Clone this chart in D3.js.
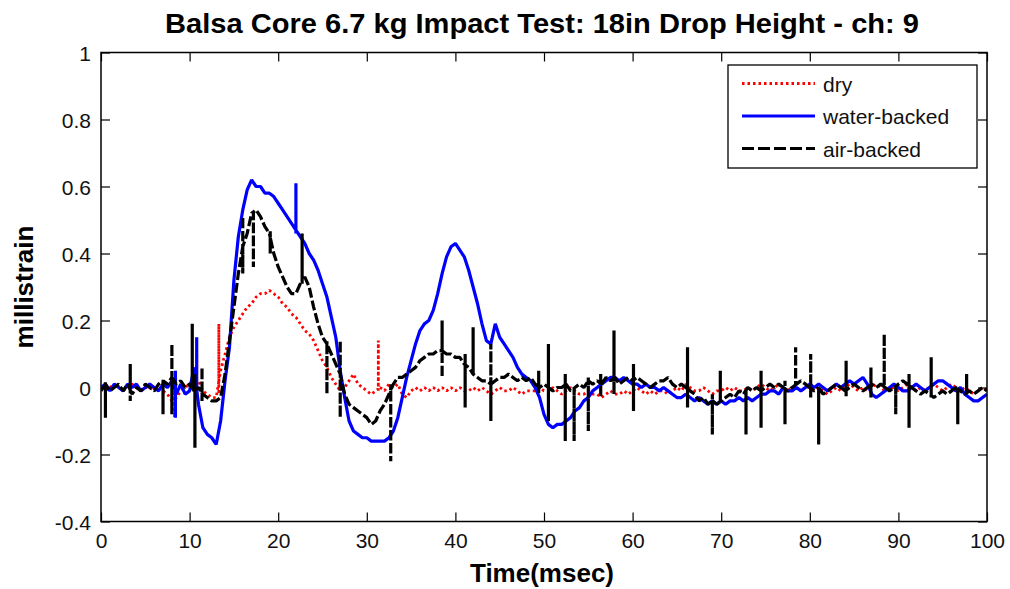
<!DOCTYPE html>
<html lang="en">
<head>
  <meta charset="UTF-8">
  <title>Balsa Core Impact Test</title>
  <script src="https://d3js.org/d3.v7.min.js"></script>
  <style>
    body { margin: 0; background: #fff; font-family: "Liberation Sans", Arial, sans-serif; }
    svg { display: block; }
    .tick text { font-size: 21px; fill: #111; font-family: "Liberation Sans", Arial, sans-serif; }
    .tick line { stroke: #000; stroke-width: 1.2; }
  </style>
</head>
<body>
  <svg width="1010" height="589"></svg>

  <script>
    // sample spacing of the strain records (msec)
    const timeStep = 0.5;

    // dry (red dotted), one value per 0.5 msec from 0 to 100
    const dryValues = [
      0.00, -0.01, 0.00, 0.01, 0.00, -0.01, 0.00, 0.01, 0.00, -0.01, 0.00, 0.00, -0.01, 0.00, -0.01, -0.02, -0.04, -0.03, -0.01, 0.00,
      0.01, 0.03, 0.02, -0.01, -0.02, -0.03, -0.03, 0.05, 0.10, 0.15, 0.18, 0.20, 0.22, 0.24, 0.25, 0.27, 0.28, 0.28, 0.29, 0.28,
      0.27, 0.25, 0.24, 0.22, 0.21, 0.19, 0.17, 0.16, 0.14, 0.11, 0.08, 0.06, 0.03, 0.01, -0.01, 0.00, 0.02, 0.04, 0.01, 0.00,
      -0.01, -0.02, -0.01, 0.00, -0.01, 0.01, 0.00, 0.01, -0.02, -0.03, -0.01, 0.00, -0.01, 0.00, -0.01, 0.00, -0.01, 0.00, -0.01, 0.00,
      -0.01, 0.00, -0.01, -0.01, 0.00, -0.01, 0.00, -0.01, -0.02, -0.01, 0.00, -0.01, -0.01, 0.00, -0.01, -0.02, -0.01, -0.01, -0.01, 0.00,
      -0.01, -0.01, 0.00, -0.01, -0.02, -0.01, 0.00, -0.01, -0.02, -0.02, -0.01, -0.02, -0.02, -0.03, -0.02, -0.01, -0.02, -0.02, -0.01, -0.02,
      -0.01, 0.00, -0.01, -0.02, -0.01, -0.02, -0.01, -0.01, -0.02, -0.01, 0.00, -0.01, 0.01, 0.00, -0.01, -0.01, 0.00, -0.01, -0.02, -0.01,
      -0.01, 0.00, -0.01, 0.00, -0.01, -0.01, 0.00, -0.01, 0.00, 0.01, 0.00, -0.01, 0.00, 0.01, 0.00, -0.01, 0.00, 0.00, -0.01, 0.00,
      0.00, -0.01, 0.00, -0.01, -0.02, -0.01, 0.00, -0.01, 0.00, 0.01, 0.00, -0.01, 0.00, -0.01, 0.00, 0.01, 0.00, -0.01, 0.00, 0.00,
      -0.01, 0.00, 0.01, 0.00, -0.01, 0.00, -0.01, 0.00, 0.01, 0.00, -0.01, 0.00, 0.01, 0.00, -0.01, 0.00, -0.01, -0.02, -0.01, 0.00,
      -0.01
    ];

    // water-backed (blue solid)
    const waterValues = [
      0.00, 0.01, -0.01, 0.01, 0.00, -0.01, 0.01, 0.00, 0.01, -0.01, 0.00, 0.01, 0.00, -0.01, 0.01, 0.00, 0.02, -0.02, 0.01, -0.02,
      -0.01, 0.06, -0.05, -0.12, -0.14, -0.15, -0.17, -0.10, 0.02, 0.12, 0.32, 0.45, 0.53, 0.59, 0.62, 0.60, 0.60, 0.58, 0.58, 0.57,
      0.55, 0.53, 0.51, 0.49, 0.47, 0.45, 0.43, 0.40, 0.38, 0.35, 0.31, 0.27, 0.21, 0.15, 0.05, -0.03, -0.10, -0.13, -0.14, -0.15,
      -0.15, -0.16, -0.16, -0.16, -0.16, -0.15, -0.13, -0.09, -0.03, 0.03, 0.08, 0.13, 0.17, 0.19, 0.20, 0.23, 0.28, 0.34, 0.39, 0.42,
      0.43, 0.41, 0.39, 0.35, 0.30, 0.25, 0.19, 0.14, 0.13, 0.19, 0.15, 0.13, 0.11, 0.09, 0.06, 0.04, 0.03, 0.02, 0.00, -0.03,
      -0.08, -0.11, -0.12, -0.11, -0.11, -0.10, -0.09, -0.07, -0.06, -0.04, -0.03, -0.01, 0.00, 0.01, 0.02, 0.03, 0.03, 0.02, 0.03, 0.02,
      0.01, 0.01, 0.00, 0.01, 0.00, 0.00, -0.01, 0.00, -0.01, -0.02, -0.03, -0.03, -0.02, -0.03, -0.04, -0.03, -0.04, -0.05, -0.04, -0.05,
      -0.04, -0.05, -0.04, -0.04, -0.03, -0.04, -0.03, -0.04, -0.03, -0.02, -0.02, -0.01, -0.01, -0.02, 0.00, -0.01, -0.01, 0.00, -0.01, 0.00,
      0.01, 0.00, 0.01, 0.00, -0.01, 0.00, 0.01, 0.00, 0.01, 0.02, 0.01, 0.02, 0.03, 0.01, -0.02, -0.03, -0.02, -0.01, 0.00, 0.01,
      0.00, -0.01, -0.01, 0.00, 0.01, 0.00, -0.01, 0.00, 0.01, 0.02, 0.02, 0.01, 0.00, -0.01, 0.00, -0.02, -0.03, -0.04, -0.04, -0.03,
      -0.02
    ];

    // air-backed (black dashed)
    const airValues = [
      -0.01, 0.01, -0.01, 0.00, 0.01, -0.01, 0.01, -0.02, 0.00, -0.01, 0.01, 0.00, -0.01, 0.01, 0.02, 0.01, 0.03, 0.01, 0.02, 0.00,
      0.01, -0.01, 0.00, -0.02, -0.03, -0.04, -0.04, -0.03, 0.04, 0.14, 0.24, 0.34, 0.42, 0.46, 0.52, 0.53, 0.51, 0.48, 0.46, 0.40,
      0.36, 0.33, 0.30, 0.28, 0.28, 0.31, 0.33, 0.30, 0.24, 0.19, 0.15, 0.13, 0.10, 0.07, 0.04, -0.02, -0.05, -0.06, -0.07, -0.08,
      -0.09, -0.11, -0.10, -0.07, -0.05, -0.02, 0.01, 0.03, 0.03, 0.04, 0.05, 0.06, 0.08, 0.09, 0.10, 0.10, 0.11, 0.11, 0.10, 0.10,
      0.09, 0.09, 0.07, 0.06, 0.04, 0.03, 0.02, 0.02, 0.01, 0.02, 0.03, 0.03, 0.04, 0.03, 0.02, 0.03, 0.02, 0.03, 0.01, 0.00,
      0.01, 0.00, -0.01, 0.00, 0.00, 0.01, -0.01, 0.00, 0.01, 0.00, 0.02, 0.01, 0.02, 0.01, 0.03, 0.02, 0.03, 0.01, 0.02, 0.03,
      0.02, 0.03, 0.02, 0.01, 0.00, 0.01, 0.02, 0.02, 0.03, 0.01, 0.00, 0.01, 0.00, -0.01, -0.02, -0.04, -0.03, -0.05, -0.04, -0.05,
      -0.04, -0.03, -0.02, -0.03, -0.01, -0.02, 0.00, -0.01, 0.00, -0.01, 0.00, 0.01, 0.00, 0.01, 0.00, -0.01, 0.00, 0.01, 0.02, 0.01,
      0.00, -0.01, 0.00, -0.02, -0.01, 0.00, 0.01, 0.00, -0.01, 0.00, 0.01, 0.00, -0.01, 0.00, 0.01, 0.00, 0.01, 0.00, -0.01, 0.00,
      0.01, 0.02, 0.01, 0.00, -0.01, -0.02, -0.01, -0.02, -0.03, -0.02, -0.01, -0.02, -0.01, 0.00, -0.01, -0.02, -0.01, -0.02, -0.01, 0.00,
      -0.01
    ];

    // short spikes in the records: time, top, bottom
    const drySpikeTime = [8.3, 10.8, 13.3, 31.3];
    const drySpikeHigh = [0.00, 0.11, 0.19, 0.14];
    const drySpikeLow  = [-0.09, 0.00, -0.02, -0.01];

    const waterSpikeTime = [8.4, 10.8, 22.0];
    const waterSpikeHigh = [0.05, 0.15, 0.61];
    const waterSpikeLow  = [-0.09, -0.02, 0.46];

    const airSpikeTime = [0.5, 3.3, 7.0, 8.0, 10.3, 10.6, 11.4, 16.0, 17.2, 19.1, 22.7, 25.5, 27.0, 32.7, 38.5, 41.1, 42.0, 44.0,
      49.4, 50.5, 52.4, 53.4, 55.0, 56.4, 57.9, 60.1, 66.2, 69.0, 69.9, 72.8, 74.5, 77.2, 78.4, 80.1, 81.0, 84.1, 86.9, 88.4,
      89.7, 91.2, 93.7, 96.7, 97.7];
    const airSpikeHigh = [0.02, 0.07, 0.00, 0.13, 0.19, 0.04, 0.06, 0.51, 0.50, 0.47, 0.46, 0.14, 0.14, 0.01, 0.20, 0.10, 0.18, 0.13,
      0.05, 0.13, 0.04, 0.00, 0.03, 0.04, 0.17, 0.07, 0.12, -0.02, 0.05, -0.01, 0.05, 0.02, 0.12, 0.10, -0.03, 0.08, 0.06, 0.16,
      0.00, 0.04, 0.09, -0.02, 0.04];
    const airSpikeLow = [-0.09, -0.04, -0.08, -0.08, 0.04, -0.18, -0.04, 0.34, 0.36, 0.40, 0.31, -0.02, -0.09, -0.22, 0.03, -0.06, 0.08, -0.10,
      -0.02, -0.10, -0.16, -0.16, -0.13, -0.03, -0.02, -0.07, -0.06, -0.14, -0.01, -0.14, -0.12, -0.11, 0.04, -0.03, -0.17, -0.03, -0.03, 0.00,
      -0.08, -0.12, -0.03, -0.11, -0.02];

    const seriesNames = ["dry", "water-backed", "air-backed"];
    const seriesColors = ["#ff0000", "#0000ff", "#000000"];
    const seriesDash = ["2.5,3", null, "10,3"];
    const seriesWidth = [2.8, 3.2, 3.2];

    const xTicks = [0, 10, 20, 30, 40, 50, 60, 70, 80, 90, 100];
    const yTicks = [-0.4, -0.2, 0, 0.2, 0.4, 0.6, 0.8, 1];

    const titleText = "Balsa Core 6.7 kg Impact Test: 18in Drop Height - ch: 9";
    const xLabel = "Time(msec)";
    const yLabel = "millistrain";

    const margin = {top: 52.5, right: 23, bottom: 67.5, left: 101};
    const width = 1010, height = 589;
    const plotW = width - margin.left - margin.right;
    const plotH = height - margin.top - margin.bottom;

    const svg = d3.select("svg");

    const x = d3.scaleLinear().domain([0, 100]).range([0, plotW]);
    const y = d3.scaleLinear().domain([-0.4, 1]).range([plotH, 0]);

    const g = svg.append("g").attr("transform", `translate(${margin.left},${margin.top})`);

    g.append("clipPath").attr("id", "plot-clip")
      .append("rect").attr("width", plotW).attr("height", plotH);

    // merge the regular samples and the spikes into one point list;
    // each spike leaves the trace and comes back at the same time
    const buildSeries = (values, spikeT, spikeHi, spikeLo) => {
      const times = values.map((_, i) => i * timeStep);
      const baseAt = d3.scaleLinear().domain(times).range(values);
      const pts = values.map((v, i) => ({t: times[i], v, o: 0}));
      spikeT.forEach((t, i) => {
        const b = baseAt(t);
        pts.push({t, v: b, o: 1});
        pts.push({t, v: spikeHi[i], o: 2});
        pts.push({t, v: spikeLo[i], o: 3});
        pts.push({t, v: b, o: 4});
      });
      return pts.sort((a, b) => a.t - b.t || a.o - b.o);
    };

    const series = [
      buildSeries(dryValues, drySpikeTime, drySpikeHigh, drySpikeLow),
      buildSeries(waterValues, waterSpikeTime, waterSpikeHigh, waterSpikeLow),
      buildSeries(airValues, airSpikeTime, airSpikeHigh, airSpikeLow)
    ];

    const line = d3.line().x(d => x(d.t)).y(d => y(d.v));

    const lines = g.append("g").attr("clip-path", "url(#plot-clip)");
    series.forEach((pts, i) => {
      lines.append("path")
        .datum(pts)
        .attr("fill", "none")
        .attr("stroke", seriesColors[i])
        .attr("stroke-width", seriesWidth[i])
        .attr("stroke-dasharray", seriesDash[i])
        .attr("stroke-linejoin", "bevel")
        .attr("d", line);
    });

    // axes, ticks pointing inward on all four sides
    const tickLen = 9;
    const gx = g.append("g").attr("transform", `translate(0,${plotH})`)
      .call(d3.axisBottom(x).tickValues(xTicks).tickSize(-tickLen).tickPadding(11).tickFormat(d => String(d)));
    const gy = g.append("g")
      .call(d3.axisLeft(y).tickValues(yTicks).tickSize(-tickLen).tickPadding(10).tickFormat(d => String(d)));
    const gt = g.append("g")
      .call(d3.axisTop(x).tickValues(xTicks).tickSize(-tickLen).tickFormat(""));
    const gr = g.append("g").attr("transform", `translate(${plotW},0)`)
      .call(d3.axisRight(y).tickValues(yTicks).tickSize(-tickLen).tickFormat(""));
    [gx, gy, gt, gr].forEach(a => a.select(".domain").remove());
    gx.selectAll(".tick text").attr("dy", "0.72em");
    gy.selectAll(".tick text").attr("dy", "0.36em");

    g.append("rect")
      .attr("width", plotW).attr("height", plotH)
      .attr("fill", "none").attr("stroke", "#000").attr("stroke-width", 1.5);

    // title and axis labels
    svg.append("text")
      .attr("x", margin.left + plotW / 2 - 2).attr("y", 33)
      .attr("text-anchor", "middle")
      .attr("font-size", 28).attr("font-weight", "bold")
      .attr("textLength", 754).attr("lengthAdjust", "spacingAndGlyphs")
      .text(titleText);

    svg.append("text")
      .attr("x", margin.left + plotW / 2 - 2).attr("y", 582)
      .attr("text-anchor", "middle")
      .attr("font-size", 26).attr("font-weight", "bold")
      .text(xLabel);

    svg.append("text")
      .attr("transform", `translate(33,${margin.top + plotH / 2}) rotate(-90)`)
      .attr("text-anchor", "middle")
      .attr("font-size", 26).attr("font-weight", "bold")
      .text(yLabel);

    // legend box
    const legend = svg.append("g").attr("transform", "translate(728,65)");
    legend.append("rect")
      .attr("width", 249).attr("height", 103)
      .attr("fill", "#fff").attr("stroke", "#000").attr("stroke-width", 1.3);
    seriesNames.forEach((name, i) => {
      const ly = 18.5 + i * 32.5;
      legend.append("line")
        .attr("x1", 14).attr("x2", 87).attr("y1", ly).attr("y2", ly)
        .attr("stroke", seriesColors[i])
        .attr("stroke-width", seriesWidth[i])
        .attr("stroke-dasharray", i === 2 ? "12,4" : seriesDash[i]);
      legend.append("text")
        .attr("x", 95).attr("y", ly + 8)
        .attr("font-size", 21).attr("fill", "#111")
        .text(name);
    });
  </script>
</body>
</html>
